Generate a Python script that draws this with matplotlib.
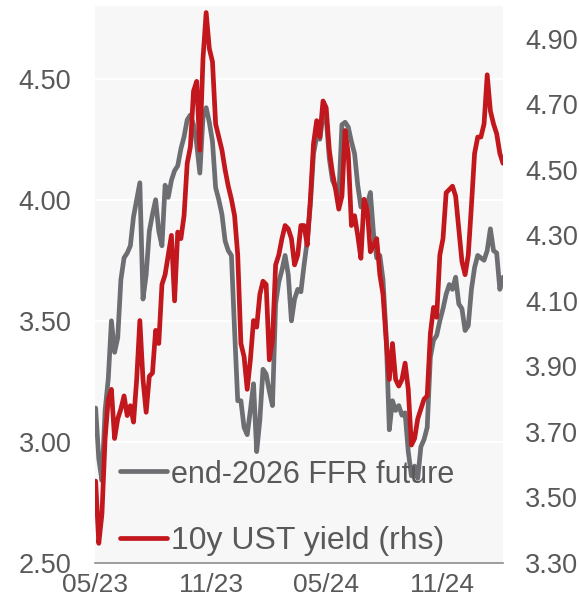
import matplotlib.pyplot as plt
import matplotlib.dates as mdates
import pandas as pd

plt.rcParams["font.family"] = ["Liberation Sans", "DejaVu Sans"]

# dates (every 5 days, May 2023 - Feb 2025)
dates = pd.date_range("2023-05-02", periods=130, freq="5D")

# end-2026 FFR future (lhs)
ffr = [3.14, 2.93, 2.84, 3.13, 3.26, 3.50, 3.37, 3.43, 3.67, 3.76,
       3.78, 3.81, 3.93, 4.00, 4.07, 3.59, 3.69, 3.87, 3.94, 4.00,
       3.87, 3.81, 4.06, 4.01, 4.08, 4.12, 4.14, 4.21, 4.26, 4.33,
       4.35, 4.31, 4.23, 4.11, 4.34, 4.38, 4.32, 4.24, 4.05, 4.00,
       3.94, 3.83, 3.79, 3.77, 3.46, 3.17, 3.17, 3.06, 3.03, 3.13,
       3.24, 2.96, 3.09, 3.30, 3.28, 3.21, 3.15, 3.57, 3.66, 3.71,
       3.77, 3.69, 3.50, 3.59, 3.63, 3.62, 3.73, 3.83, 3.98, 4.19,
       4.26, 4.25, 4.35, 4.34, 4.17, 4.08, 4.05, 4.01, 4.31, 4.32,
       4.30, 4.24, 4.19, 4.06, 3.97, 3.99, 3.98, 4.03, 3.86, 3.76,
       3.77, 3.67, 3.44, 3.05, 3.17, 3.13, 3.15, 3.11, 3.12, 2.96,
       2.86, 2.90, 2.85, 2.98, 3.01, 3.06, 3.35, 3.42, 3.44, 3.50,
       3.55, 3.61, 3.65, 3.63, 3.68, 3.57, 3.55, 3.46, 3.48, 3.63,
       3.72, 3.77, 3.76, 3.75, 3.79, 3.88, 3.79, 3.78, 3.63, 3.68]

# 10y UST yield (rhs)
ust = [3.55, 3.36, 3.45, 3.68, 3.80, 3.83, 3.68, 3.74, 3.77, 3.81,
       3.75, 3.78, 3.73, 3.86, 4.04, 3.86, 3.76, 3.87, 3.88, 4.01,
       3.97, 4.15, 4.18, 4.24, 4.30, 4.10, 4.31, 4.29, 4.36, 4.52,
       4.57, 4.74, 4.77, 4.56, 4.84, 4.98, 4.87, 4.83, 4.64, 4.60,
       4.56, 4.50, 4.45, 4.41, 4.36, 4.24, 3.97, 3.93, 3.83, 3.92,
       4.04, 4.02, 4.12, 4.16, 4.15, 3.92, 3.98, 4.21, 4.24, 4.29,
       4.33, 4.32, 4.29, 4.21, 4.24, 4.33, 4.33, 4.27, 4.41, 4.58,
       4.65, 4.60, 4.71, 4.69, 4.56, 4.49, 4.44, 4.38, 4.42, 4.62,
       4.55, 4.33, 4.36, 4.30, 4.23, 4.41, 4.38, 4.25, 4.27, 4.29,
       4.18, 4.12, 3.98, 3.86, 3.97, 3.86, 3.84, 3.86, 3.91, 3.83,
       3.66, 3.68, 3.74, 3.77, 3.80, 3.81, 4.00, 4.08, 4.05, 4.24,
       4.29, 4.43, 4.44, 4.45, 4.42, 4.32, 4.22, 4.18, 4.24, 4.39,
       4.55, 4.60, 4.60, 4.64, 4.79, 4.68, 4.64, 4.61, 4.55, 4.52]

left_ticks = [2.50, 3.00, 3.50, 4.00, 4.50]
right_ticks = [3.30, 3.50, 3.70, 3.90, 4.10, 4.30, 4.50, 4.70, 4.90]

GRAY = "#6d6e71"
RED = "#c1171d"
TXT = "#595959"

fig = plt.figure(figsize=(5.79, 6.01), dpi=100)
ax = fig.add_axes([95 / 579, 38 / 601, 408 / 579, 557 / 601])
ax2 = ax.twinx()

ax.set_facecolor("#f7f7f7")
ax2.patch.set_visible(False)

# lines
l1, = ax.plot(dates, ffr, color=GRAY, linewidth=3.4,
              solid_joinstyle="round", solid_capstyle="round",
              label="end-2026 FFR future")
l2, = ax2.plot(dates, ust, color=RED, linewidth=3.4,
               solid_joinstyle="round", solid_capstyle="round",
               label="10y UST yield (rhs)")

# axes ranges
ax.set_xlim(pd.Timestamp("2023-05-01"), dates[-1])
ax.set_ylim(2.50, 4.80)
ax2.set_ylim(3.30, 5.00)

ax.set_yticks(left_ticks)
ax.set_yticklabels([f"{v:.2f}" for v in left_ticks])
ax2.set_yticks(right_ticks)
ax2.set_yticklabels([f"{v:.2f}" for v in right_ticks])

ax.xaxis.set_major_locator(mdates.MonthLocator(bymonth=[5, 11]))
ax.xaxis.set_major_formatter(mdates.DateFormatter("%m/%y"))

# white horizontal grid
ax.grid(axis="y", color="white", linewidth=1.5)
ax.set_axisbelow(True)

for a in (ax, ax2):
    for s in a.spines.values():
        s.set_visible(False)
ax.spines["bottom"].set_visible(True)
ax.spines["bottom"].set_color("#8c8c8c")
ax.spines["bottom"].set_linewidth(1.2)

ax.tick_params(axis="y", length=0, pad=17, labelsize=19.5, labelcolor=TXT)
ax2.tick_params(axis="y", length=0, pad=16, labelsize=19.5, labelcolor=TXT)
ax.tick_params(axis="x", length=0, pad=7, labelsize=19, labelcolor=TXT)

# legend
leg = ax2.legend(
    handles=[l1, l2],
    loc="lower left",
    bbox_to_anchor=(0.062, 0.012),
    frameon=False,
    fontsize=23,
    handlelength=1.45,
    handletextpad=0.15,
    labelspacing=1.15,
    borderpad=0,
    borderaxespad=0,
)
for t in leg.get_texts():
    t.set_color(TXT)
leg.get_texts()[0].set_fontsize(22)

fig.savefig("out.png", dpi=100)
